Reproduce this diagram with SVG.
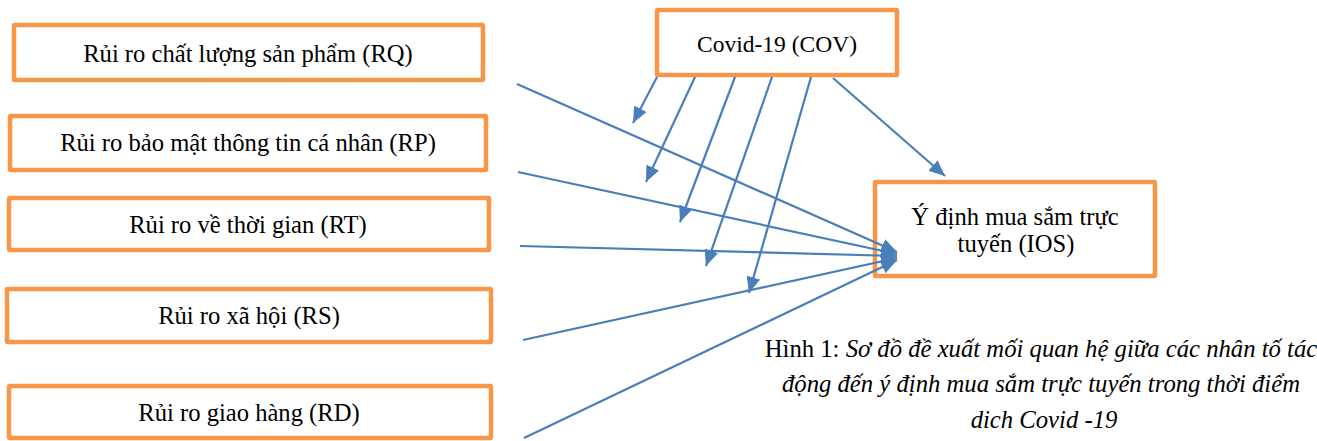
<svg xmlns="http://www.w3.org/2000/svg" width="1317" height="441" viewBox="0 0 1317 441">
<defs>
<marker id="ah" markerUnits="userSpaceOnUse" markerWidth="18" markerHeight="14" refX="16" refY="7" orient="auto">
<path d="M0,0 L16,7 L0,14 z" fill="#4A7EBB"/>
</marker>
<style>
.box{fill:#fff;stroke:#F79646;stroke-width:4.5}
.t{font-family:"Liberation Serif",serif;font-size:24.6px;fill:#000;text-anchor:middle}
.c{stroke:#4A7EBB;stroke-width:2.2;fill:none;marker-end:url(#ah)}
.cap{font-family:"Liberation Serif",serif;font-size:24.7px;fill:#000;text-anchor:middle}
</style>
</defs>
<rect width="1317" height="441" fill="#fff"/>
<g id="RQ"><rect class="box" x="14" y="25" width="469" height="55" rx="1"/><text class="t" x="248" y="62">Rủi ro chất lượng sản phẩm (RQ)</text></g>
<g id="RP"><rect class="box" x="10" y="116" width="476" height="54" rx="1"/><text class="t" x="248" y="151">Rủi ro bảo mật thông tin cá nhân (RP)</text></g>
<g id="RT"><rect class="box" x="9" y="198" width="480" height="52" rx="1"/><text class="t" x="248" y="233">Rủi ro về thời gian (RT)</text></g>
<g id="RS"><rect class="box" x="7" y="289" width="484" height="53" rx="1"/><text class="t" x="249" y="324">Rủi ro xã hội (RS)</text></g>
<g id="RD"><rect class="box" x="9" y="386" width="482" height="52" rx="1"/><text class="t" x="249" y="421">Rủi ro giao hàng (RD)</text></g>
<g id="COV"><rect class="box" x="657" y="10" width="240" height="65" rx="1"/><text class="t" x="777" y="52" style="font-size:23.5px">Covid-19 (COV)</text></g>
<g id="IOS"><rect class="box" x="875" y="182" width="280" height="94" rx="1"/><text class="t" x="1015" y="225">Ý định mua sắm trực</text><text class="t" x="1016" y="252">tuyến (IOS)</text></g>
<g id="connectors">
<line class="c" x1="517" y1="84" x2="897" y2="252"/>
<line class="c" x1="518" y1="172" x2="897" y2="254"/>
<line class="c" x1="520" y1="246" x2="897" y2="256"/>
<line class="c" x1="523" y1="340" x2="897" y2="258"/>
<line class="c" x1="524" y1="438" x2="897" y2="260"/>
<line class="c" x1="657" y1="77" x2="633" y2="123"/>
<line class="c" x1="695" y1="77" x2="646" y2="182"/>
<line class="c" x1="735" y1="77" x2="680" y2="222"/>
<line class="c" x1="772" y1="77" x2="706" y2="266"/>
<line class="c" x1="811" y1="77" x2="749" y2="293"/>
<line class="c" x1="833" y1="78" x2="945" y2="176"/>
</g>
<g id="caption">
<text class="cap" x="1041" y="357">Hình 1: <tspan font-style="italic">Sơ đồ đề xuất mối quan hệ giữa các nhân tố tác</tspan></text>
<text class="cap" x="1041" y="392" font-style="italic">động đến ý định mua sắm trực tuyến trong thời điểm</text>
<text class="cap" x="1044" y="428" font-style="italic">dich Covid -19</text>
</g>
</svg>
